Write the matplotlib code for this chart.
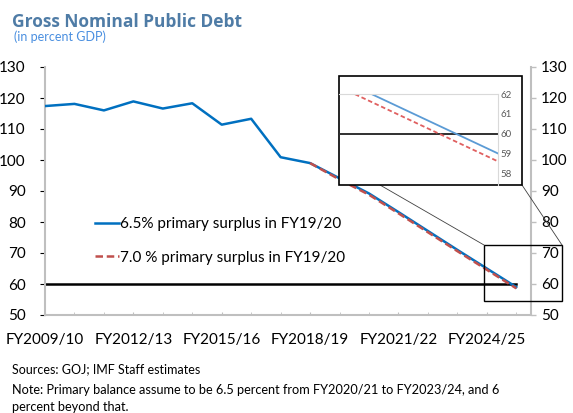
import matplotlib
matplotlib.use("Agg")
import matplotlib.pyplot as plt
from matplotlib.patches import Rectangle
from matplotlib.lines import Line2D

# Fiscal years and debt paths (percent of GDP)
years = ['FY2009/10', 'FY2010/11', 'FY2011/12', 'FY2012/13', 'FY2013/14',
         'FY2014/15', 'FY2015/16', 'FY2016/17', 'FY2017/18', 'FY2018/19',
         'FY2019/20', 'FY2020/21', 'FY2021/22', 'FY2022/23', 'FY2023/24',
         'FY2024/25', 'FY2025/26']
debt_65 = [117.4, 118.1, 116.0, 118.9, 116.6, 118.3, 111.4, 113.3, 100.9,
           99.0, 94.1, 89.2, 83.2, 77.1, 71.0, 65.0, 59.0]
debt_70 = [None] * 9 + [99.0, 93.7, 88.8, 82.8, 76.7, 70.6, 64.6, 58.6]
threshold = [60] * len(years)

label_65 = '6.5% primary surplus in FY19/20'
label_70 = '7.0 % primary surplus in FY19/20'

plt.rcParams['font.family'] = ['Lato', 'DejaVu Sans']

W, H = 573, 413
fig = plt.figure(figsize=(W / 100, H / 100), dpi=100)


def fx(px):
    return px / W


def fy(py):
    return 1 - py / H


x = list(range(len(years)))
x70 = [i for i, v in zip(x, debt_70) if v is not None]
y70 = [v for v in debt_70 if v is not None]

blue = '#0070C0'
red = '#C0504D'
grey = '#BFBFBF'

ax = fig.add_axes([fx(45), fy(315), fx(531) - fx(45), fy(67) - fy(315)])
ax.plot(x, threshold, color='black', lw=1.8, zorder=2)
ax.plot(x, debt_65, color=blue, lw=1.8, label=label_65, zorder=3)
ax.plot(x70, y70, color=red, lw=1.8, ls=(0, (3, 1.5)), label=label_70, zorder=4)
ax.set_xlim(0, 16.5)
ax.set_ylim(50, 130)
ax.set_yticks(range(50, 131, 10))
ax.set_xticks(x, minor=True)
ax.set_xticks(x[::3])
ax.set_xticklabels(years[::3], fontsize=11)
ax.tick_params(axis='x', which='both', direction='in', length=2.5, color=grey, pad=13)
ax.tick_params(axis='y', labelsize=11, left=False, pad=10.5)
for s in ['left', 'bottom', 'right']:
    ax.spines[s].set_color(grey)
    ax.spines[s].set_linewidth(1.5)
ax.spines['top'].set_visible(False)
ax.legend(loc='upper left', bbox_to_anchor=(0.09, 0.42), frameon=False,
          fontsize=11, handlelength=1.6, handletextpad=0.05, labelspacing=1.3,
          borderaxespad=0)

# secondary (right) axis with the same scale
ax2 = ax.twinx()
ax2.set_ylim(ax.get_ylim())
ax2.set_yticks(range(50, 131, 10))
ax2.tick_params(axis='y', labelsize=11, direction='out', color=grey,
                length=3.6, width=1, pad=3.6)
for s in ax2.spines.values():
    s.set_visible(False)

# zoom box on the main chart
fig.add_artist(Rectangle((fx(484), fy(301)), fx(562) - fx(484), fy(245) - fy(301),
                         transform=fig.transFigure, fill=False, edgecolor='black',
                         lw=1.0, zorder=5))
fig.add_artist(Line2D([fx(380), fx(484)], [fy(185), fy(245)], transform=fig.transFigure,
                      color='#404040', lw=0.6, zorder=5))
fig.add_artist(Line2D([fx(522), fx(562)], [fy(185), fy(245)], transform=fig.transFigure,
                      color='#404040', lw=0.6, zorder=5))

# inset frame
fig.add_artist(Rectangle((fx(339), fy(185)), fx(522) - fx(339), fy(76) - fy(185),
                         transform=fig.transFigure, facecolor='white', edgecolor='black',
                         lw=1.2, zorder=6))

ins = fig.add_axes([fx(339), fy(185), fx(498) - fx(339), fy(94) - fy(185)])
ins.set_zorder(7)
ins.patch.set_alpha(0)
ins.plot(x, threshold, color='#303030', lw=1.4)
ins.plot(x, debt_65, color='#5B9BD5', lw=1.3)
ins.plot(x70, y70, color='#E06060', lw=1.3, ls=(0, (2.5, 1.5)))
ins.set_xlim(15.372, 16.0)
ins.set_ylim(57.41, 62.0)
ins.set_xticks([])
ins.set_yticks([58, 59, 60, 61, 62])
ins.yaxis.tick_right()
ins.tick_params(axis='y', length=0, pad=2, labelsize=7, labelcolor='#595959')
ins.spines['left'].set_visible(False)
ins.spines['bottom'].set_visible(False)
ins.spines['top'].set_color('#D9D9D9')
ins.spines['right'].set_color('#D9D9D9')

fig.text(fx(12), fy(27), 'Gross Nominal Public Debt', fontsize=12.5, fontweight='bold',
         color='#4F7CA6', family=['Open Sans', 'DejaVu Sans'], va='baseline')
fig.text(fx(14), fy(41), '(in percent GDP)', fontsize=9, color='#4A8FE0', va='baseline')

fig.text(fx(12), fy(373), 'Sources: GOJ; IMF Staff estimates', fontsize=9, va='baseline')
fig.text(fx(12), fy(394), 'Note: Primary balance assume to be 6.5 percent from FY2020/21 '
         'to FY2023/24, and 6', fontsize=9.2, va='baseline')
fig.text(fx(12), fy(411), 'percent beyond that.', fontsize=9.2, va='baseline')

fig.savefig('out.png', dpi=100)
